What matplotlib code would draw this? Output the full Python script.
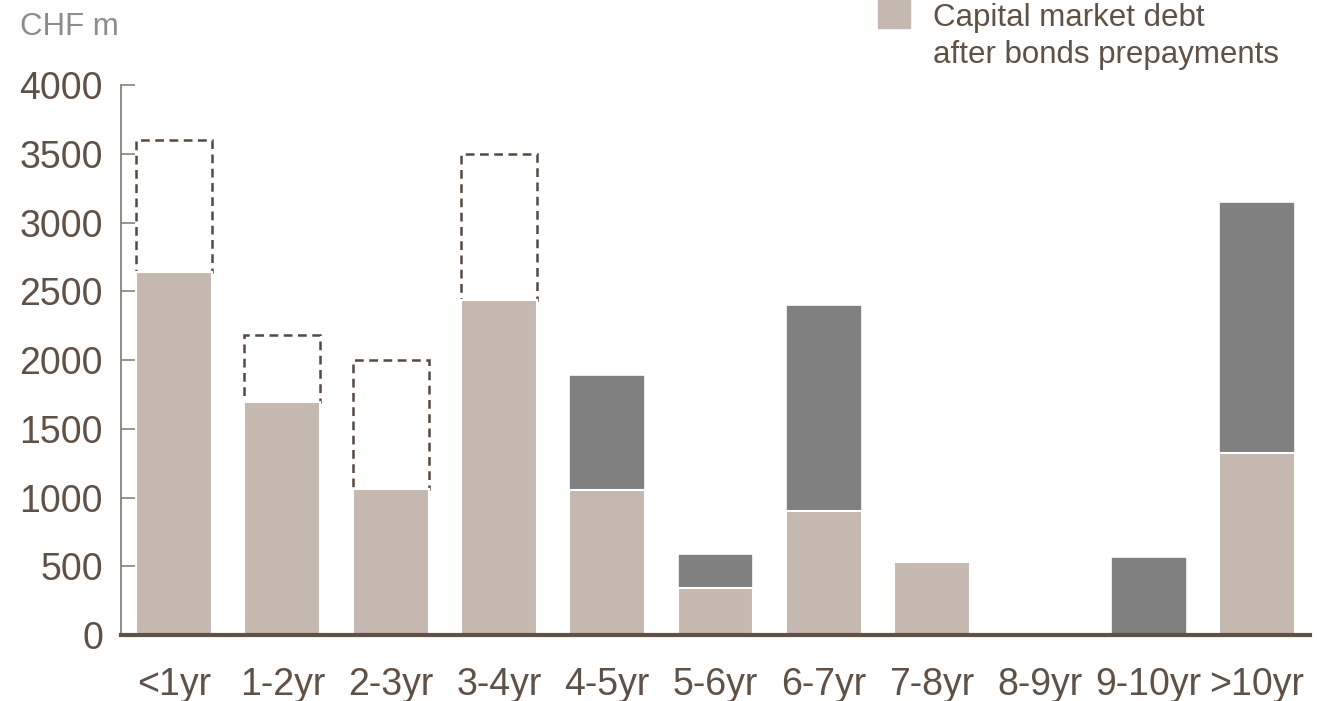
import matplotlib.pyplot as plt
import numpy as np

plt.rcParams['font.family'] = ['Liberation Sans', 'DejaVu Sans']

categories = ['<1yr', '1-2yr', '2-3yr', '3-4yr', '4-5yr', '5-6yr',
              '6-7yr', '7-8yr', '8-9yr', '9-10yr', '>10yr']
# capital market debt after bonds prepayments (beige)
after_prepay = [2640, 1695, 1062, 2440, 1055, 345, 905, 535, 0, 0, 1325]
# total incl. other debt (grey stack top); 0 = no grey part
total_other = [0, 0, 0, 0, 1890, 590, 2400, 0, 0, 565, 3150]
# total before prepayments (dashed outline); 0 = none
before_prepay = [3600, 2180, 2000, 3500, 0, 0, 0, 0, 0, 0, 0]
yticks = list(range(0, 4001, 500))

BEIGE = '#c4b8b0'
GREY = '#808080'
BROWN = '#5f5145'
SPINE = '#8c8079'

x = np.arange(len(categories))
after_prepay = np.array(after_prepay)
total_other = np.array(total_other)
before_prepay = np.array(before_prepay)
w = 0.7

fig = plt.figure(figsize=(13.17, 7.01), dpi=100)
ax = fig.add_axes([0.0919, 0.094, 0.9028, 0.7846])

# dashed outlines for the prepaid part
m = before_prepay > 0
ax.bar(x[m], before_prepay[m] - after_prepay[m], bottom=after_prepay[m], width=w,
       fill=False, edgecolor='#574940', linewidth=1.8, linestyle=(0, (3.5, 2.2)), zorder=2)

# grey stacked part
g = total_other > 0
ax.bar(x[g], total_other[g] - after_prepay[g], bottom=after_prepay[g], width=w,
       color=GREY, edgecolor='white', linewidth=1.2, zorder=3)

# beige bars
b = after_prepay > 0
ax.bar(x[b], after_prepay[b], width=w, color=BEIGE, edgecolor='white',
       linewidth=1.5, zorder=4)

ax.set_xlim(-0.49, len(categories) - 0.51)
ax.set_ylim(0, 4000)
ax.set_yticks(yticks)
ax.set_yticklabels([str(v) for v in yticks])
ax.set_xticks(x)
ax.set_xticklabels(categories)

for s in ['top', 'right']:
    ax.spines[s].set_visible(False)
ax.spines['left'].set_color(SPINE)
ax.spines['left'].set_linewidth(1.3)
ax.spines['bottom'].set_color(BROWN)
ax.spines['bottom'].set_linewidth(3)
ax.spines['bottom'].set_zorder(5)

ax.tick_params(axis='y', direction='in', length=10, width=1.2, color=SPINE,
               labelsize=27, labelcolor=BROWN, pad=13)
ax.tick_params(axis='x', length=0, labelsize=27, labelcolor=BROWN, pad=23)

fig.text(0.015, 1 - 27 / 701, 'CHF m', fontsize=22.5, color='#8c8c8c',
         va='center', ha='left')

# legend
fig.patches.append(plt.Rectangle((878 / 1317, 1 - 28 / 701), 32 / 1317, 28 / 701,
                                 transform=fig.transFigure, color=BEIGE))
fig.text(933 / 1317, 1 - 18 / 701, 'Capital market debt', fontsize=22.5,
         color=BROWN, va='center', ha='left')
fig.text(933 / 1317, 1 - 55 / 701, 'after bonds prepayments', fontsize=22.5,
         color=BROWN, va='center', ha='left')

fig.savefig('out.png', dpi=100)
